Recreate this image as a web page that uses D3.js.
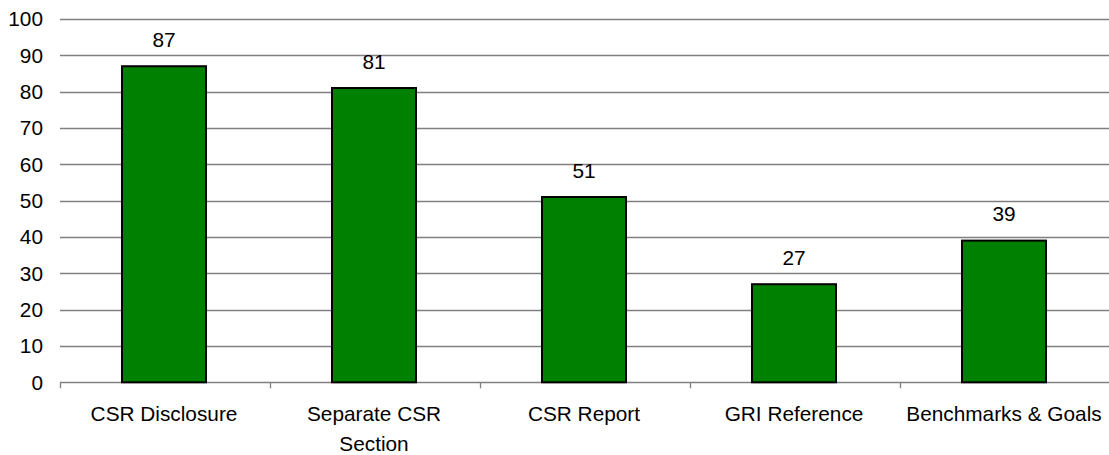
<!DOCTYPE html>
<html><head><meta charset="utf-8">
<script src="https://cdn.jsdelivr.net/npm/d3@7"></script>
<style>body{margin:0;background:#fff}svg{display:block}text{font-family:"Liberation Sans",Arial,sans-serif;fill:#000}</style>
</head><body>
<script>
const categories = [["CSR Disclosure"], ["Separate CSR", "Section"], ["CSR Report"], ["GRI Reference"], ["Benchmarks & Goals"]];
const values = [87, 81, 51, 27, 39];
const yTicks = [0, 10, 20, 30, 40, 50, 60, 70, 80, 90, 100];

(function () {
const W = 1109, H = 455;
const mLeft = 60, mRight = 1110, mTop = 19, mBottom = 382.3;
const svg = d3.select("body").append("svg").attr("width", W).attr("height", H);
const keys = categories.map(c => c.join(" "));
const x = d3.scaleBand().domain(keys).range([mLeft, mRight]).padding(0);
const y = d3.scaleLinear().domain([0, 100]).range([mBottom, mTop]);
const fs = 20.8;

// gridlines
svg.append("g").selectAll("line").data(yTicks).join("line")
  .attr("x1", mLeft).attr("x2", W).attr("y1", d => Math.round(y(d)) + 0.5).attr("y2", d => Math.round(y(d)) + 0.5)
  .attr("stroke", "#808080").attr("stroke-width", 1.3);

// y labels
svg.append("g").selectAll("text").data(yTicks).join("text")
  .attr("x", 43).attr("y", d => y(d)).attr("dy", "0.36em").attr("text-anchor", "end")
  .style("font-size", fs + "px").text(d => d);

// category ticks
svg.append("g").selectAll("line").data(keys).join("line")
  .attr("x1", d => Math.round(x(d)) + 0.5).attr("x2", d => Math.round(x(d)) + 0.5)
  .attr("y1", mBottom).attr("y2", mBottom + 6).attr("stroke", "#808080").attr("stroke-width", 1.3);

// bars
const bw = x.bandwidth() * 0.4;
svg.append("g").selectAll("rect").data(values).join("rect")
  .attr("x", (d, i) => x(keys[i]) + x.bandwidth() / 2 - bw / 2 - 1)
  .attr("y", d => y(d))
  .attr("width", bw).attr("height", d => mBottom - y(d))
  .attr("fill", "#008000").attr("stroke", "#000").attr("stroke-width", 2);

// value labels
svg.append("g").selectAll("text").data(values).join("text")
  .attr("x", (d, i) => x(keys[i]) + x.bandwidth() / 2 - 1)
  .attr("y", d => y(d) - 19.5).attr("text-anchor", "middle")
  .style("font-size", fs + "px").text(d => d);

// category labels
const cl = svg.append("g").selectAll("text").data(categories).join("text")
  .attr("x", (d, i) => x(keys[i]) + x.bandwidth() / 2 - 1)
  .attr("y", 420.7).attr("text-anchor", "middle").style("font-size", fs + "px");
cl.selectAll("tspan").data(d => d).join("tspan")
  .attr("x", function() { return d3.select(this.parentNode).attr("x"); })
  .attr("dy", (d, i) => i === 0 ? 0 : 30).text(d => d);
})();
</script>
</body></html>
